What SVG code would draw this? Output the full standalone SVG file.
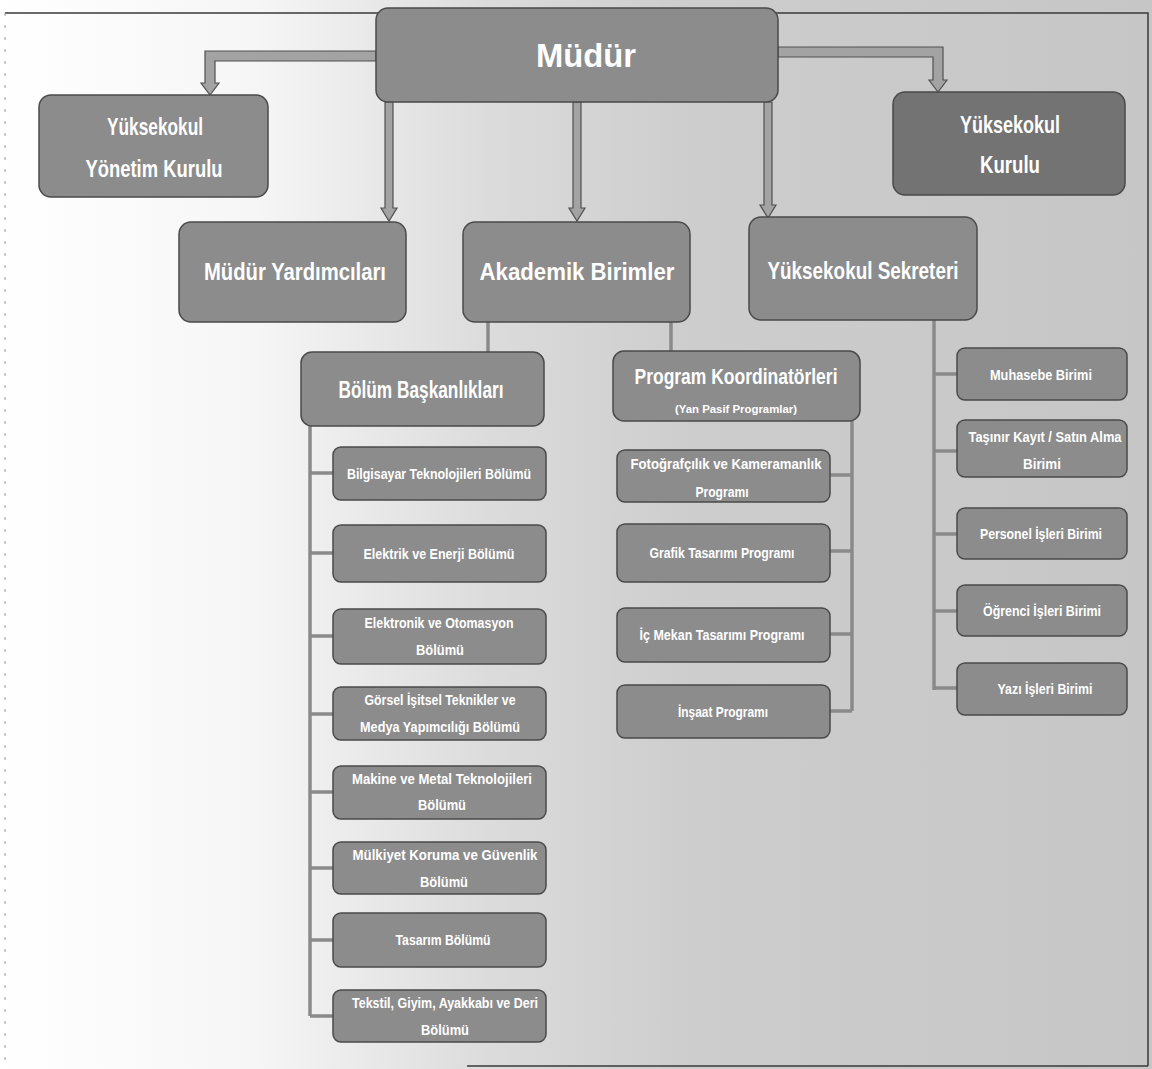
<svg xmlns="http://www.w3.org/2000/svg" width="1152" height="1069" viewBox="0 0 1152 1069">
<defs>
<linearGradient id="bg" x1="0" y1="0" x2="1" y2="0">
<stop offset="0" stop-color="#ffffff"/>
<stop offset="0.22" stop-color="#f6f6f6"/>
<stop offset="0.42" stop-color="#dcdcdc"/>
<stop offset="0.6" stop-color="#cdcdcd"/>
<stop offset="1" stop-color="#c6c6c6"/>
</linearGradient>
<style>
.box{fill:#8c8c8c;stroke:#4a4a4a;stroke-width:1.5}
.dark{fill:#737373}
.t{fill:#ffffff;font-family:"Liberation Sans",Arial,sans-serif;font-weight:bold;text-anchor:middle}
.big{font-size:34px}
.h1{font-size:24px}
.h2{font-size:15px}
.sm{font-size:11px}
.arr{fill:#a3a3a3;stroke:#505050;stroke-width:1.2;stroke-linejoin:miter}
.ln{stroke:#8a8a8a;stroke-width:3.5;fill:none}
.bd{stroke:#3a3a3a;stroke-width:1.5;fill:none}
</style>
</defs>
<rect x="0" y="0" width="1152" height="1069" fill="url(#bg)"/>
<path class="bd" d="M5,13 H1148 V1066 M467,1066 H1148"/>
<path d="M5,13 V1060" stroke="#9a9a9a" stroke-width="1" stroke-dasharray="3,9" fill="none"/>

<g id="connectors">
<path class="arr" d="M376,51 H205 V83 H201 L210,95 L219,83 H215 V61 H376 Z"/>
<path class="arr" d="M778,47 H943 V80 H947 L938,92 L929,80 H933 V57 H778 Z"/>
<path class="arr" d="M385,102 H393 V208 H397 L389,221 L381,208 H385 Z"/>
<path class="arr" d="M573,102 H581 V208 H585 L577,221 L569,208 H573 Z"/>
<path class="arr" d="M764,102 H772 V205 H776 L768,218 L760,205 H764 Z"/>
<path class="ln" d="M488,320 V352 M671,320 V351"/>
<path class="ln" d="M310,425 V1016 M310,473 H333 M310,553 H333 M310,636 H333 M310,714 H333 M310,792 H333 M310,868 H333 M310,940 H333 M310,1016 H333"/>
<path class="ln" d="M852,420 V711 M830,475 H852 M830,551 H852 M830,634 H852 M830,711 H852"/>
<path class="ln" d="M934,320 V690 M934,374 H957 M934,451 H957 M934,534 H957 M934,611 H957 M934,688 H957"/>
</g>

<g id="mudur"><rect class="box" x="376" y="8" width="402" height="94" rx="12"/><text class="t big" x="586" y="67" textLength="100" lengthAdjust="spacingAndGlyphs">Müdür</text></g>
<g id="yonetim-kurulu"><rect class="box" x="39" y="95" width="229" height="102" rx="12"/><text class="t h1" x="155" y="135" textLength="96" lengthAdjust="spacingAndGlyphs">Yüksekokul</text><text class="t h1" x="154" y="177" textLength="137" lengthAdjust="spacingAndGlyphs">Yönetim Kurulu</text></g>
<g id="yuksekokul-kurulu"><rect class="box dark" x="893" y="92" width="232" height="103" rx="12"/><text class="t h1" x="1010" y="133" textLength="100" lengthAdjust="spacingAndGlyphs">Yüksekokul</text><text class="t h1" x="1010" y="173" textLength="60" lengthAdjust="spacingAndGlyphs">Kurulu</text></g>
<g id="mudur-yardimcilari"><rect class="box" x="179" y="222" width="227" height="100" rx="12"/><text class="t h1" x="295" y="280" textLength="182" lengthAdjust="spacingAndGlyphs">Müdür Yardımcıları</text></g>
<g id="akademik-birimler"><rect class="box" x="463" y="222" width="227" height="100" rx="12"/><text class="t h1" x="577" y="280" textLength="195" lengthAdjust="spacingAndGlyphs">Akademik Birimler</text></g>
<g id="sekreter"><rect class="box" x="749" y="217" width="228" height="103" rx="12"/><text class="t h1" x="863" y="279" textLength="191" lengthAdjust="spacingAndGlyphs">Yüksekokul Sekreteri</text></g>

<g id="bolum-baskanliklari"><rect class="box" x="301" y="352" width="243" height="74" rx="11"/><text class="t h1" x="421" y="398" textLength="165" lengthAdjust="spacingAndGlyphs">Bölüm Başkanlıkları</text></g>
<g id="program-koordinatorleri"><rect class="box" x="613" y="351" width="247" height="70" rx="11"/><text class="t" style="font-size:22px" x="736" y="384" textLength="203" lengthAdjust="spacingAndGlyphs">Program Koordinatörleri</text><text class="t sm" x="736" y="413" textLength="122" lengthAdjust="spacingAndGlyphs">(Yan Pasif Programlar)</text></g>

<g id="b1"><rect class="box" x="333" y="447" width="213" height="53" rx="8"/><text class="t h2" x="439" y="479" textLength="184" lengthAdjust="spacingAndGlyphs">Bilgisayar Teknolojileri Bölümü</text></g>
<g id="b2"><rect class="box" x="333" y="525" width="213" height="57" rx="8"/><text class="t h2" x="439" y="559" textLength="151" lengthAdjust="spacingAndGlyphs">Elektrik ve Enerji Bölümü</text></g>
<g id="b3"><rect class="box" x="333" y="609" width="213" height="55" rx="8"/><text class="t h2" x="439" y="628" textLength="149" lengthAdjust="spacingAndGlyphs">Elektronik ve Otomasyon</text><text class="t h2" x="440" y="655" textLength="48" lengthAdjust="spacingAndGlyphs">Bölümü</text></g>
<g id="b4"><rect class="box" x="333" y="687" width="213" height="53" rx="8"/><text class="t h2" x="440" y="705" textLength="151" lengthAdjust="spacingAndGlyphs">Görsel İşitsel Teknikler ve</text><text class="t h2" x="440" y="732" textLength="160" lengthAdjust="spacingAndGlyphs">Medya Yapımcılığı Bölümü</text></g>
<g id="b5"><rect class="box" x="333" y="766" width="213" height="53" rx="8"/><text class="t h2" x="442" y="784" textLength="180" lengthAdjust="spacingAndGlyphs">Makine ve Metal Teknolojileri</text><text class="t h2" x="442" y="810" textLength="48" lengthAdjust="spacingAndGlyphs">Bölümü</text></g>
<g id="b6"><rect class="box" x="333" y="842" width="213" height="52" rx="8"/><text class="t h2" x="445" y="860" textLength="185" lengthAdjust="spacingAndGlyphs">Mülkiyet Koruma ve Güvenlik</text><text class="t h2" x="444" y="887" textLength="48" lengthAdjust="spacingAndGlyphs">Bölümü</text></g>
<g id="b7"><rect class="box" x="333" y="913" width="213" height="54" rx="8"/><text class="t h2" x="443" y="945" textLength="95" lengthAdjust="spacingAndGlyphs">Tasarım Bölümü</text></g>
<g id="b8"><rect class="box" x="333" y="990" width="213" height="52" rx="8"/><text class="t h2" x="445" y="1008" textLength="186" lengthAdjust="spacingAndGlyphs">Tekstil, Giyim, Ayakkabı ve Deri</text><text class="t h2" x="445" y="1035" textLength="48" lengthAdjust="spacingAndGlyphs">Bölümü</text></g>

<g id="p1"><rect class="box" x="617" y="450" width="213" height="52" rx="8"/><text class="t h2" x="726" y="469" textLength="191" lengthAdjust="spacingAndGlyphs">Fotoğrafçılık ve Kameramanlık</text><text class="t h2" x="722" y="497" textLength="53" lengthAdjust="spacingAndGlyphs">Programı</text></g>
<g id="p2"><rect class="box" x="617" y="524" width="213" height="58" rx="8"/><text class="t h2" x="722" y="558" textLength="145" lengthAdjust="spacingAndGlyphs">Grafik Tasarımı Programı</text></g>
<g id="p3"><rect class="box" x="617" y="608" width="213" height="54" rx="8"/><text class="t h2" x="722" y="640" textLength="165" lengthAdjust="spacingAndGlyphs">İç Mekan Tasarımı Programı</text></g>
<g id="p4"><rect class="box" x="617" y="685" width="213" height="53" rx="8"/><text class="t h2" x="723" y="717" textLength="90" lengthAdjust="spacingAndGlyphs">İnşaat Programı</text></g>

<g id="r1"><rect class="box" x="957" y="348" width="170" height="52" rx="8"/><text class="t h2" x="1041" y="380" textLength="102" lengthAdjust="spacingAndGlyphs">Muhasebe Birimi</text></g>
<g id="r2"><rect class="box" x="957" y="420" width="170" height="57" rx="8"/><text class="t h2" x="1045" y="442" textLength="153" lengthAdjust="spacingAndGlyphs">Taşınır Kayıt / Satın Alma</text><text class="t h2" x="1042" y="469" textLength="38" lengthAdjust="spacingAndGlyphs">Birimi</text></g>
<g id="r3"><rect class="box" x="957" y="508" width="170" height="51" rx="8"/><text class="t h2" x="1041" y="539" textLength="122" lengthAdjust="spacingAndGlyphs">Personel İşleri Birimi</text></g>
<g id="r4"><rect class="box" x="957" y="585" width="170" height="51" rx="8"/><text class="t h2" x="1042" y="616" textLength="118" lengthAdjust="spacingAndGlyphs">Öğrenci İşleri Birimi</text></g>
<g id="r5"><rect class="box" x="957" y="663" width="170" height="52" rx="8"/><text class="t h2" x="1045" y="694" textLength="95" lengthAdjust="spacingAndGlyphs">Yazı İşleri Birimi</text></g>
</svg>
